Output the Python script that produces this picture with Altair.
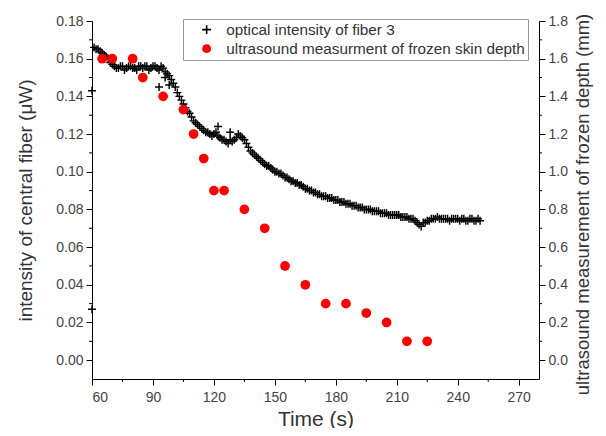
import altair as alt
import pandas as pd

# ---------------- data ----------------
series_names = ["optical intensity of fiber 3", "ultrasound measurment of frozen skin depth"]

# optical intensity samples (odd seconds)
opt_time_a = [61, 63, 65, 67, 69, 71, 73, 75, 77, 79, 81, 83, 85, 87, 89, 91, 93, 95, 97, 99,
              101, 103, 105, 107, 109, 111, 113, 115, 117, 119, 121, 123, 125, 127, 129, 131, 133, 135, 137, 139,
              141, 143, 145, 147, 149, 151, 153, 155, 157, 159, 161, 163, 165, 167, 169, 171, 173, 175, 177, 179,
              181, 183, 185, 187, 189, 191, 193, 195, 197, 199, 201, 203, 205, 207, 209, 211, 213, 215, 217, 219,
              221, 223, 225, 227, 229, 231, 233, 235, 237, 239, 241, 243, 245, 247, 249, 251]
opt_val_a = [0.166, 0.165, 0.163, 0.161, 0.158, 0.156, 0.155, 0.156, 0.155, 0.156,
             0.155, 0.156, 0.155, 0.156, 0.155, 0.156, 0.154, 0.155, 0.152, 0.149,
             0.145, 0.140, 0.136, 0.132, 0.129, 0.126, 0.124, 0.122, 0.121, 0.119,
             0.121, 0.118, 0.117, 0.115, 0.116, 0.118, 0.119, 0.117, 0.113, 0.110,
             0.108, 0.106, 0.104, 0.103, 0.101, 0.100, 0.099, 0.097, 0.096, 0.095,
             0.094, 0.093, 0.091, 0.090, 0.089, 0.088, 0.087, 0.087, 0.086, 0.085,
             0.085, 0.084, 0.083, 0.083, 0.082, 0.081, 0.081, 0.080, 0.080, 0.079,
             0.079, 0.078, 0.078, 0.077, 0.077, 0.077, 0.076, 0.076, 0.075, 0.074,
             0.072, 0.073, 0.074, 0.075, 0.075, 0.075, 0.075, 0.075, 0.075, 0.075,
             0.074, 0.075, 0.074, 0.075, 0.074, 0.074]

# optical intensity samples (even seconds)
opt_time_b = [62, 64, 66, 68, 70, 72, 74, 76, 78, 80, 82, 84, 86, 88, 90, 92, 94, 96, 98, 100,
              102, 104, 106, 108, 110, 112, 114, 116, 118, 120, 122, 124, 126, 128, 130, 132, 134, 136, 138, 140,
              142, 144, 146, 148, 150, 152, 154, 156, 158, 160, 162, 164, 166, 168, 170, 172, 174, 176, 178, 180,
              182, 184, 186, 188, 190, 192, 194, 196, 198, 200, 202, 204, 206, 208, 210, 212, 214, 216, 218, 220,
              222, 224, 226, 228, 230, 232, 234, 236, 238, 240, 242, 244, 246, 248, 250]
opt_val_b = [0.165, 0.164, 0.162, 0.160, 0.157, 0.155, 0.156, 0.154, 0.156, 0.155,
             0.154, 0.156, 0.156, 0.154, 0.156, 0.155, 0.156, 0.153, 0.151, 0.147,
             0.142, 0.138, 0.134, 0.131, 0.127, 0.125, 0.123, 0.121, 0.120, 0.120,
             0.119, 0.117, 0.116, 0.117, 0.117, 0.120, 0.118, 0.115, 0.111, 0.109,
             0.107, 0.105, 0.103, 0.102, 0.100, 0.099, 0.098, 0.097, 0.095, 0.094,
             0.093, 0.092, 0.091, 0.090, 0.089, 0.088, 0.087, 0.086, 0.086, 0.085,
             0.084, 0.084, 0.083, 0.082, 0.082, 0.081, 0.080, 0.080, 0.079, 0.079,
             0.078, 0.078, 0.077, 0.077, 0.077, 0.076, 0.076, 0.075, 0.075, 0.073,
             0.071, 0.073, 0.074, 0.075, 0.076, 0.075, 0.075, 0.074, 0.075, 0.075,
             0.075, 0.074, 0.075, 0.074, 0.075]

# scattered outlier samples
opt_time_c = [60, 60, 93, 96, 98, 122, 128]
opt_val_c = [0.027, 0.143, 0.145, 0.150, 0.146, 0.124, 0.121]

us_time = [65, 70, 80, 85, 95, 105, 110, 115, 120, 125, 135, 145, 155, 165, 175, 185, 195, 205, 215, 225]
us_depth = [1.6, 1.6, 1.6, 1.5, 1.4, 1.33, 1.2, 1.07, 0.9, 0.9, 0.8, 0.7, 0.5, 0.4, 0.3, 0.3, 0.25, 0.2, 0.1, 0.1]

x_ticks = [60, 90, 120, 150, 180, 210, 240, 270]
x_minor = [75, 105, 135, 165, 195, 225, 255]
left_ticks = [0.00, 0.02, 0.04, 0.06, 0.08, 0.10, 0.12, 0.14, 0.16, 0.18]
left_minor = [0.01, 0.03, 0.05, 0.07, 0.09, 0.11, 0.13, 0.15, 0.17]
right_ticks = [0.0, 0.2, 0.4, 0.6, 0.8, 1.0, 1.2, 1.4, 1.6, 1.8]
right_minor = [0.1, 0.3, 0.5, 0.7, 0.9, 1.1, 1.3, 1.5, 1.7]

x_domain = [60, 280]
left_domain = [-0.01, 0.18]
right_domain = [-0.1, 1.8]

# ---------------- tables ----------------
opt_df = pd.DataFrame({
    "t": opt_time_a + opt_time_b + opt_time_c,
    "intensity": opt_val_a + opt_val_b + opt_val_c,
})
opt_df["series"] = series_names[0]
us_df = pd.DataFrame({"t": us_time, "depth": us_depth, "series": series_names[1]})
xminor_df = pd.DataFrame({"t": x_minor})
lminor_df = pd.DataFrame({"intensity": left_minor})
rminor_df = pd.DataFrame({"depth": right_minor})

FONT = "Liberation Sans"
W, H = 447, 358

plus_path = "M-1,-0.18H1V0.18H-1Z M-0.18,-1H0.18V1H-0.18Z"
color_scale = alt.Scale(domain=series_names, range=["#000000", "#ff0000"])
shape_scale = alt.Scale(domain=series_names, range=[plus_path, "circle"])
legend = alt.Legend(title=None, orient="none", legendX=91, legendY=-2,
                    labelFontSize=15.3, labelFont=FONT, labelColor="#333333",
                    strokeColor="#9a9a9a", fillColor="white", padding=3,
                    symbolSize=80, symbolOffset=13, labelOffset=12, rowPadding=3,
                    labelLimit=500, symbolStrokeWidth=0)

xs = alt.Scale(domain=x_domain, nice=False, zero=False)
ls = alt.Scale(domain=left_domain, nice=False, zero=False)
rs = alt.Scale(domain=right_domain, nice=False, zero=False)

x_axis = alt.Axis(values=x_ticks, title="Time (s)", format="d", tickSize=6,
                  labelPadding=5, labelFontSize=14, titlePadding=4, titleFontSize=21)
left_axis = alt.Axis(values=left_ticks, format=".2f", title="intensity of central fiber (\u03bcW)",
                     orient="left", tickSize=6, labelPadding=3, labelFontSize=14,
                     titlePadding=20, titleFontSize=19)
right_axis = alt.Axis(values=right_ticks, format=".1f", title="ultrasound measurement of frozen depth (mm)",
                      orient="right", tickSize=6, labelPadding=3, labelFontSize=14,
                      titlePadding=6, titleFontSize=18.5, titleAngle=270, titleBaseline="top",
                      titleY=H / 2 + 4)

optical = alt.Chart(opt_df).mark_point(filled=True, opacity=1, size=64, strokeWidth=0).encode(
    x=alt.X("t:Q", scale=xs, axis=x_axis),
    y=alt.Y("intensity:Q", scale=ls, axis=left_axis),
    color=alt.Color("series:N", scale=color_scale, legend=legend),
    shape=alt.Shape("series:N", scale=shape_scale, legend=legend),
)
lminor = alt.Chart(lminor_df).mark_rule(color="black", strokeWidth=1).encode(
    y=alt.Y("intensity:Q", scale=ls, axis=left_axis),
    x=alt.value(0), x2=alt.value(-3),
)
left_layer = alt.layer(optical, lminor)

ultra = alt.Chart(us_df).mark_point(filled=True, opacity=1, size=95, strokeWidth=0).encode(
    x=alt.X("t:Q", scale=xs, axis=x_axis),
    y=alt.Y("depth:Q", scale=rs, axis=right_axis),
    color=alt.Color("series:N", scale=color_scale, legend=legend),
    shape=alt.Shape("series:N", scale=shape_scale, legend=legend),
)
rminor = alt.Chart(rminor_df).mark_rule(color="black", strokeWidth=1).encode(
    y=alt.Y("depth:Q", scale=rs, axis=right_axis),
    x=alt.value(W), x2=alt.value(W + 3),
)
right_layer = alt.layer(ultra, rminor)

xminor = alt.Chart(xminor_df).mark_rule(color="black", strokeWidth=1).encode(
    x=alt.X("t:Q", scale=xs, axis=x_axis),
    y=alt.value(H), y2=alt.value(H + 3),
)

chart = alt.layer(left_layer, right_layer, xminor).resolve_scale(
    y="independent"
).properties(
    width=W, height=H,
    autosize=alt.AutoSizeParams(type="none"),
    padding={"left": 84, "top": 13, "right": 59, "bottom": 49},
).configure_view(stroke=None).configure_axis(
    grid=False, domainColor="black", tickColor="black", domainWidth=1, tickWidth=1,
    labelFont=FONT, titleFont=FONT, labelColor="#444444",
    titleColor="#333333", titleFontWeight="normal",
).configure_legend(labelFont=FONT)

chart.save("out.html", embed_options={"renderer": "svg", "actions": False})
